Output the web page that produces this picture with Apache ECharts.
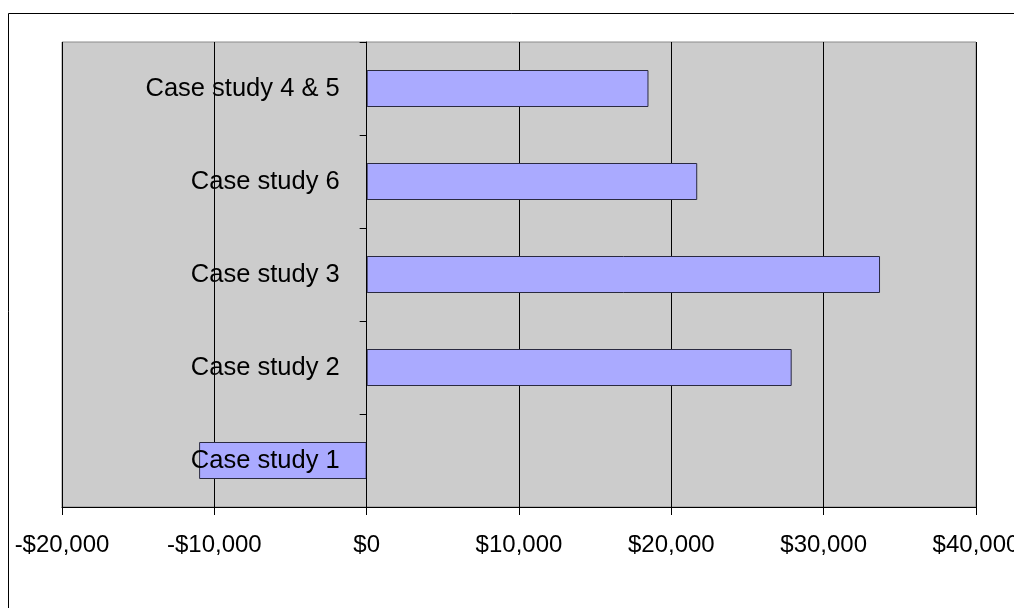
<!DOCTYPE html>
<html>
<head>
<meta charset="utf-8">
<script src="https://cdn.jsdelivr.net/npm/echarts@6/dist/echarts.min.js"></script>
<style>
  html, body { margin: 0; padding: 0; background: #ffffff; }
  #chart { width: 1014px; height: 608px; }
</style>
</head>
<body>
<div id="chart"></div>
<script>
// Case studies, bottom to top
const categories = ['Case study 1', 'Case study 2', 'Case study 3', 'Case study 6', 'Case study 4 & 5'];
const netValues = [-11000, 27900, 33700, 21700, 18500];
const axisMin = -20000;
const axisMax = 40000;
const axisStep = 10000;

const gridLeft = 62;
const gridRight = 38;
const plotWidth = 1014 - gridLeft - gridRight;
// place the category axis on the $0 line, labels included
const zeroOffset = (0 - axisMin) / (axisMax - axisMin) * plotWidth;

function formatDollars(v) {
  const abs = Math.abs(v).toLocaleString('en-US');
  return (v < 0 ? '-$' : '$') + abs;
}

const chart = echarts.init(document.getElementById('chart'), null, { renderer: 'canvas' });

chart.setOption({
  backgroundColor: '#ffffff',
  animation: false,
  textStyle: { fontFamily: 'Liberation Sans, Arial, sans-serif' },
  graphic: [{
    type: 'rect',
    shape: { x: 8.5, y: 13.5, width: 1010, height: 600 },
    style: { fill: 'none', stroke: '#000000', lineWidth: 1 },
    z: -1
  }],
  grid: {
    left: gridLeft, right: gridRight, top: 42, bottom: 101,
    containLabel: false,
    outerBoundsMode: 'none',
    show: true,
    backgroundColor: '#cccccc',
    borderColor: '#8a8a8a',
    borderWidth: 1
  },
  xAxis: {
    type: 'value',
    min: axisMin,
    max: axisMax,
    interval: axisStep,
    axisLine: { show: true, onZero: false, lineStyle: { color: '#000000', width: 1 } },
    axisTick: { show: true, length: 8, lineStyle: { color: '#000000' } },
    axisLabel: {
      margin: 26,
      fontSize: 24,
      color: '#000000',
      formatter: formatDollars
    },
    splitLine: { show: true, lineStyle: { color: '#000000', width: 1 } }
  },
  yAxis: {
    type: 'category',
    data: categories,
    z: 5,
    position: 'left',
    offset: -zeroOffset,
    axisLine: { show: true, onZero: false, lineStyle: { color: '#000000', width: 1 } },
    axisTick: { show: true, length: 7, inside: false, lineStyle: { color: '#000000' } },
    axisLabel: {
      margin: 27,
      fontSize: 25.5,
      color: '#000000'
    },
    splitLine: { show: false }
  },
  series: [{
    type: 'bar',
    data: netValues,
    barWidth: 37,
    itemStyle: {
      color: '#aaaaff',
      borderColor: '#2a2a40',
      borderWidth: 1
    }
  }]
});
</script>
</body>
</html>
